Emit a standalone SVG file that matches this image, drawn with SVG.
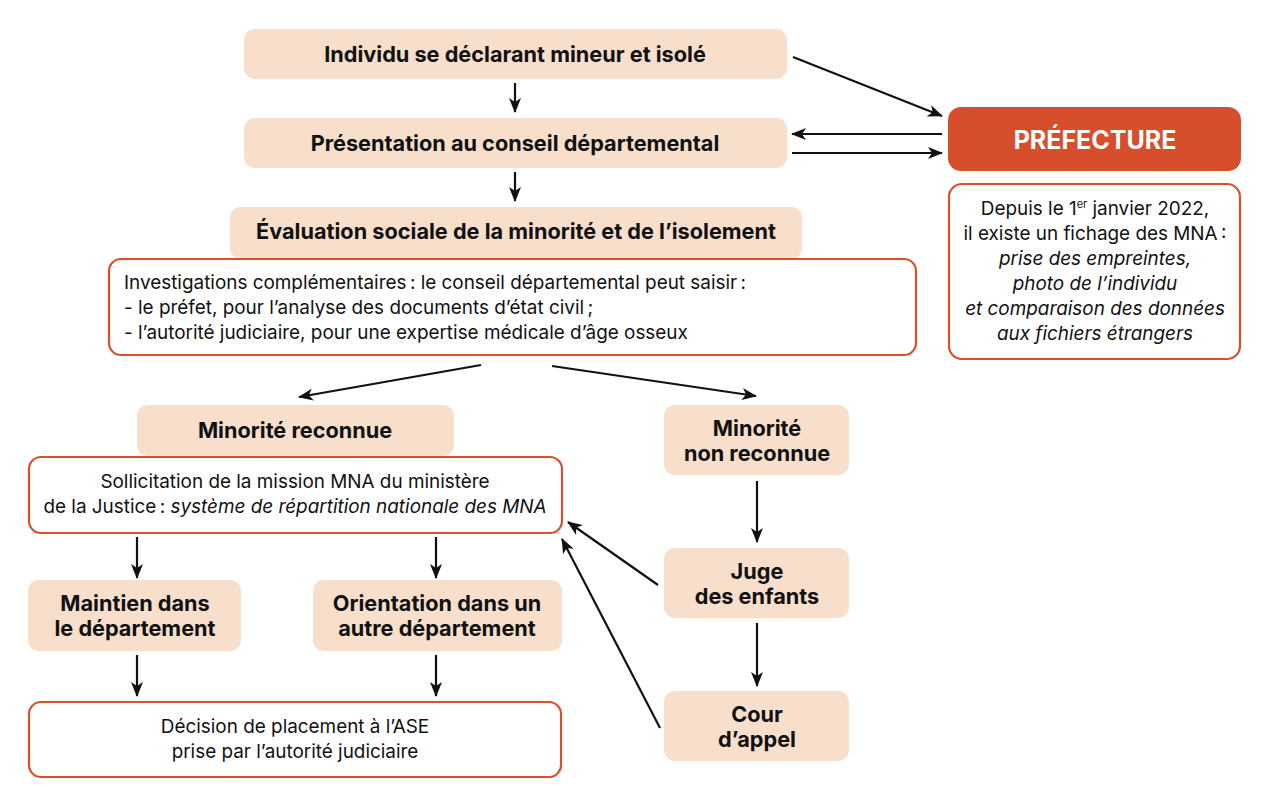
<svg xmlns="http://www.w3.org/2000/svg" width="1280" height="800" viewBox="0 0 1280 800">
<defs>
<marker id="ah" viewBox="0 0 15 12" refX="14" refY="6" markerWidth="15" markerHeight="12" markerUnits="userSpaceOnUse" orient="auto">
<path d="M0,0 L15,6 L0,12 L4,6 z" fill="#111"/>
</marker>
<style>
.b{fill:#f8dfcb;}
.o{fill:#fff;stroke:#d9512c;stroke-width:2.2;}
.p{fill:#d64e2b;}
.t{font-family:Inter,Roboto,"Liberation Sans",sans-serif;font-weight:bold;font-size:21.7px;fill:#111;text-anchor:middle;}
.n{font-family:Inter,Roboto,"Liberation Sans",sans-serif;font-size:18.9px;fill:#111;}
.c{text-anchor:middle;}
.w{font-family:Inter,Roboto,"Liberation Sans",sans-serif;font-weight:bold;font-size:25px;fill:#fff;text-anchor:middle;}
.a{stroke:#111;stroke-width:2.2;fill:none;marker-end:url(#ah);}
</style>
</defs>
<rect width="1280" height="800" fill="#fff"/>
<g id="connectors">
<line class="a" x1="515" y1="83" x2="515" y2="112"/>
<line class="a" x1="515" y1="172" x2="515" y2="201"/>
<line class="a" x1="793" y1="57" x2="942" y2="116"/>
<line class="a" x1="942" y1="134" x2="792" y2="134"/>
<line class="a" x1="792" y1="153" x2="942" y2="153"/>
<line class="a" x1="481" y1="365" x2="299" y2="397"/>
<line class="a" x1="552" y1="366" x2="756" y2="396"/>
<line class="a" x1="757" y1="481" x2="757" y2="542"/>
<line class="a" x1="757" y1="623" x2="757" y2="686"/>
<line class="a" x1="658" y1="585" x2="568" y2="522"/>
<line class="a" x1="660" y1="728" x2="562" y2="539"/>
<line class="a" x1="137" y1="537" x2="137" y2="578"/>
<line class="a" x1="436" y1="537" x2="436" y2="578"/>
<line class="a" x1="137" y1="655" x2="137" y2="696"/>
<line class="a" x1="436" y1="655" x2="436" y2="696"/>
</g>
<g id="n1"><rect class="b" x="244" y="29" width="543" height="50" rx="11"/><text class="t" x="515" y="62">Individu se déclarant mineur et isolé</text></g>
<g id="n2"><rect class="b" x="244" y="118" width="543" height="50" rx="11"/><text class="t" x="515" y="151">Présentation au conseil départemental</text></g>
<g id="n3"><rect class="b" x="230" y="207" width="572" height="52" rx="11"/><text class="t" x="516" y="239">Évaluation sociale de la minorité et de l’isolement</text></g>
<g id="n4"><rect class="o" x="109" y="259" width="807" height="96" rx="12"/>
<text class="n" x="124" y="289">Investigations complémentaires&#8239;: le conseil départemental peut saisir&#8239;:</text>
<text class="n" x="124" y="314">- le préfet, pour l’analyse des documents d’état civil&#8239;;</text>
<text class="n" x="124" y="339">- l’autorité judiciaire, pour une expertise médicale d’âge osseux</text></g>
<g id="prefecture"><rect class="p" x="948" y="107" width="293" height="64" rx="13"/><text class="w" x="1095" y="149">PRÉFECTURE</text></g>
<g id="note"><rect class="o" x="949" y="184" width="291" height="175" rx="13"/>
<text class="n c" x="1095" y="215">Depuis le 1<tspan font-size="11" dy="-7">er</tspan><tspan dy="7"> janvier 2022,</tspan></text>
<text class="n c" x="1095" y="240">il existe un fichage des MNA&#8239;:</text>
<text class="n c" x="1095" y="265" font-style="italic">prise des empreintes,</text>
<text class="n c" x="1095" y="290" font-style="italic">photo de l’individu</text>
<text class="n c" x="1095" y="315" font-style="italic">et comparaison des données</text>
<text class="n c" x="1095" y="340" font-style="italic">aux fichiers étrangers</text></g>
<g id="n5"><rect class="b" x="137" y="405" width="317" height="51" rx="11"/><text class="t" x="295" y="438">Minorité reconnue</text></g>
<g id="n6"><rect class="o" x="29" y="457" width="533" height="76" rx="12"/>
<text class="n c" x="295" y="488">Sollicitation de la mission MNA du ministère</text>
<text class="n c" x="295" y="513">de la Justice&#8239;: <tspan font-style="italic">système de répartition nationale des MNA</tspan></text></g>
<g id="n7"><rect class="b" x="664" y="405" width="185" height="70" rx="11"/><text class="t" x="757" y="436">Minorité</text><text class="t" x="757" y="461">non reconnue</text></g>
<g id="n8"><rect class="b" x="664" y="548" width="185" height="70" rx="11"/><text class="t" x="757" y="579">Juge</text><text class="t" x="757" y="604">des enfants</text></g>
<g id="n9"><rect class="b" x="664" y="691" width="185" height="70" rx="11"/><text class="t" x="757" y="722">Cour</text><text class="t" x="757" y="747">d’appel</text></g>
<g id="n10"><rect class="b" x="28" y="580" width="213" height="71" rx="11"/><text class="t" x="135" y="611">Maintien dans</text><text class="t" x="135" y="636">le département</text></g>
<g id="n11"><rect class="b" x="313" y="580" width="249" height="71" rx="11"/><text class="t" x="437" y="611">Orientation dans un</text><text class="t" x="437" y="636">autre département</text></g>
<g id="n12"><rect class="o" x="29" y="702" width="532" height="75" rx="12"/>
<text class="n c" x="295" y="733">Décision de placement à l’ASE</text>
<text class="n c" x="295" y="758">prise par l’autorité judiciaire</text></g>
</svg>
